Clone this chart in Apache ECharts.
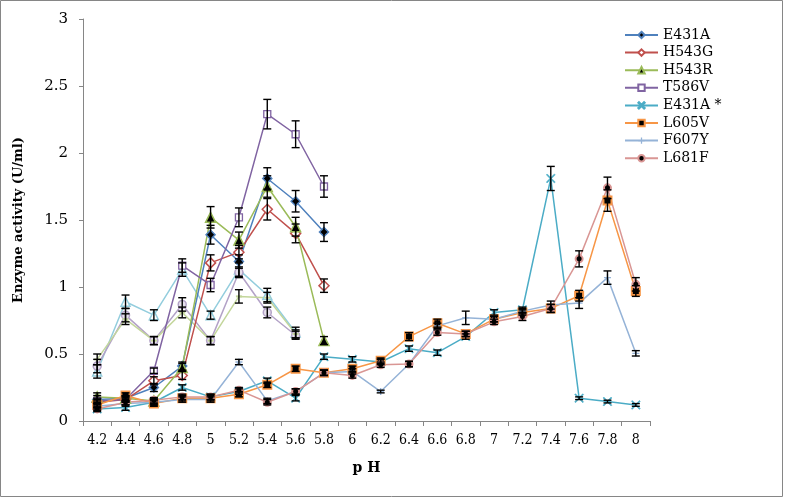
<!DOCTYPE html>
<html>
<head>
<meta charset="utf-8">
<script src="https://cdn.jsdelivr.net/npm/echarts@6/dist/echarts.min.js"></script>
<style>
html, body { margin: 0; padding: 0; background: #fff; }
#main { width: 788px; height: 498px; }
</style>
</head>
<body>
<div id="main"></div>
<script>
// pH 分类
var categories = ['4.2', '4.4', '4.6', '4.8', '5', '5.2', '5.4', '5.6', '5.8', '6',
    '6.2', '6.4', '6.6', '6.8', '7', '7.2', '7.4', '7.6', '7.8', '8'];
var yTicks = [0, 0.5, 1, 1.5, 2, 2.5, 3];

// 各突变体酶活 (U/ml)
var E431A = [0.16, 0.17, 0.25, 0.41, 1.39, 1.19, 1.81, 1.64, 1.41];
var H543G = [0.14, 0.16, 0.30, 0.34, 1.18, 1.26, 1.58, 1.40, 1.01];
var H543R = [0.18, 0.17, 0.15, 0.40, 1.52, 1.35, 1.75, 1.45, 0.60];
var T586V = [0.15, 0.16, 0.375, 1.16, 1.015, 1.52, 2.29, 2.14, 1.75];
var E431Astar = [0.09, 0.10, 0.14, 0.25, 0.18, 0.22, 0.30, 0.17, 0.48, 0.46,
    0.44, 0.54, 0.51, 0.63, 0.81, 0.83, 1.81, 0.17, 0.145, 0.12];
var L605V = [0.12, 0.19, 0.13, 0.17, 0.17, 0.20, 0.27, 0.39, 0.36, 0.39,
    0.45, 0.63, 0.73, 0.65, 0.76, 0.81, 0.84, 0.935, 1.645, 0.97];
var F607Y = [0.11, 0.13, 0.14, 0.16, 0.16, 0.44, 0.15, 0.22, 0.36, 0.37,
    0.22, 0.425, 0.71, 0.77, 0.76, 0.82, 0.865, 0.88, 1.07, 0.505];
var L681F = [0.09, 0.14, 0.155, 0.18, 0.18, 0.23, 0.14, 0.22, 0.36, 0.34,
    0.42, 0.425, 0.66, 0.65, 0.74, 0.78, 0.84, 1.21, 1.74, 1.02];
// 图例中没有的三条线
var extraA = [0.37, 0.89, 0.79, 1.13, 0.79, 1.13, 0.94, 0.66];
var extraB = [0.41, 0.79, 0.60, 0.87, 0.60, 1.11, 0.81, 0.64];
var extraC = [0.46, 0.76, 0.60, 0.81, 0.60, 0.93, 0.92, 0.65];

// 误差 (±)
var errE431A = [0.03, 0.02, 0.03, 0.03, 0.07, 0.05, 0.08, 0.08, 0.07];
var errH543G = [0.02, 0.02, 0.03, 0.03, 0.06, 0.05, 0.08, 0.07, 0.05];
var errH543R = [0.03, 0.02, 0.02, 0.03, 0.08, 0.06, 0.08, 0.07, 0.03];
var errT586V = [0.02, 0.02, 0.02, 0.05, 0.05, 0.07, 0.11, 0.10, 0.08];
var errE431Astar = [0.01, 0.02, 0.02, 0.02, 0.02, 0.02, 0.02, 0.02, 0.02, 0.02,
    0.02, 0.02, 0.02, 0.02, 0.02, 0.02, 0.09, 0.01, 0.01, 0.01];
var errL605V = [0.02, 0.02, 0.02, 0.02, 0.02, 0.02, 0.02, 0.02, 0.02, 0.02,
    0.02, 0.03, 0.03, 0.02, 0.02, 0.02, 0.03, 0.04, 0.08, 0.04];
var errF607Y = [0.02, 0.02, 0.02, 0.02, 0.02, 0.02, 0.02, 0.02, 0.02, 0.02,
    0.01, 0.02, 0.02, 0.05, 0.02, 0.02, 0.03, 0.04, 0.05, 0.02];
var errL681F = [0.02, 0.02, 0.02, 0.02, 0.02, 0.02, 0.02, 0.02, 0.02, 0.02,
    0.02, 0.02, 0.02, 0.02, 0.02, 0.03, 0.03, 0.06, 0.08, 0.05];
var errExtraA = [0.05, 0.05, 0.04, 0.05, 0.03, 0.05, 0.05, 0.04];
var errExtraB = [0.05, 0.05, 0.03, 0.05, 0.03, 0.04, 0.04, 0.03];
var errExtraC = [0.04, 0.04, 0.03, 0.04, 0.03, 0.05, 0.04, 0.03];

var SERIF = "'DejaVu Serif', 'Liberation Serif', serif";
var X_PATH = 'path://M0,1L1,0L5,4L9,0L10,1L6,5L10,9L9,10L5,6L1,10L0,9L4,5Z';
var PLUS_PATH = 'path://M4,0H6V4H10V6H6V10H4V6H0V4H4Z';

var myChart = echarts.init(document.getElementById('main'));

function lineSeries(name, data, color, symbol, size, fill, bw) {
    return {
        name: name,
        type: 'line',
        data: data,
        symbol: symbol,
        symbolSize: size,
        showAllSymbol: true,
        connectNulls: false,
        lineStyle: { color: color, width: 1.5 },
        itemStyle: { color: fill, borderColor: color, borderWidth: bw },
        emphasis: { disabled: true },
        z: 3
    };
}

function errSeries(data, err) {
    var d = [];
    for (var i = 0; i < data.length; i++) {
        d.push([i, data[i], err[i]]);
    }
    return {
        type: 'custom',
        data: d,
        silent: true,
        z: 4,
        encode: { x: 0, y: 1 },
        renderItem: function (params, api) {
            var x = api.value(0), y = api.value(1), e = api.value(2);
            var top = api.coord([x, y + e]);
            var bot = api.coord([x, y - e]);
            var w = 4;
            var st = { stroke: '#000', lineWidth: 1.4 };
            return {
                type: 'group',
                children: [
                    { type: 'line', shape: { x1: top[0], y1: top[1], x2: bot[0], y2: bot[1] }, style: st },
                    { type: 'line', shape: { x1: top[0] - w, y1: top[1], x2: top[0] + w, y2: top[1] }, style: st },
                    { type: 'line', shape: { x1: bot[0] - w, y1: bot[1], x2: bot[0] + w, y2: bot[1] }, style: st }
                ]
            };
        }
    };
}

var series = [
    lineSeries('extraA', extraA, '#93cddd', 'triangle', 9, '#fff', 1.5),
    lineSeries('extraB', extraB, '#b3a2c7', 'circle', 8, '#e6e0ec', 1.5),
    lineSeries('extraC', extraC, '#c3d69b', 'rect', [6, 2], '#c3d69b', 0),
    lineSeries('E431A', E431A, '#4f81bd', 'diamond', 9, '#000', 1.5),
    lineSeries('H543G', H543G, '#c0504d', 'diamond', 10, '#fff', 1.5),
    lineSeries('H543R', H543R, '#9bbb59', 'triangle', 10, '#000', 1.5),
    lineSeries('T586V', T586V, '#8064a2', 'rect', 7, '#fff', 1.3),
    lineSeries('E431A *', E431Astar, '#4bacc6', X_PATH, 9, '#4bacc6', 0.5),
    lineSeries('L605V', L605V, '#f79646', 'rect', 8, '#000', 2),
    lineSeries('F607Y', F607Y, '#95b3d7', PLUS_PATH, 7, '#95b3d7', 0),
    lineSeries('L681F', L681F, '#d99694', 'circle', 7, '#000', 2),
    errSeries(extraA, errExtraA),
    errSeries(extraB, errExtraB),
    errSeries(extraC, errExtraC),
    errSeries(E431A, errE431A),
    errSeries(H543G, errH543G),
    errSeries(H543R, errH543R),
    errSeries(T586V, errT586V),
    errSeries(E431Astar, errE431Astar),
    errSeries(L605V, errL605V),
    errSeries(F607Y, errF607Y),
    errSeries(L681F, errL681F)
];

option = {
    backgroundColor: '#fff',
    animation: false,
    graphic: [{
        type: 'rect',
        shape: { x: 0.5, y: 0.5, width: 782, height: 496 },
        style: { fill: 'none', stroke: '#868686', lineWidth: 1 },
        silent: true
    }],
    legend: {
        data: ['E431A', 'H543G', 'H543R', 'T586V', 'E431A *', 'L605V', 'F607Y', 'L681F'],
        orient: 'vertical',
        left: 619,
        top: 23,
        itemWidth: 33,
        itemHeight: 8,
        itemGap: 3.6,
        textStyle: { fontFamily: SERIF, fontSize: 14, color: '#000', lineHeight: 14 }
    },
    grid: {
        left: 83,
        right: 138,
        top: 19,
        bottom: 77
    },
    xAxis: {
        type: 'category',
        data: categories,
        boundaryGap: true,
        name: 'p H',
        nameLocation: 'middle',
        nameGap: 40,
        nameTextStyle: { fontFamily: SERIF, fontSize: 14, fontWeight: 'bold', color: '#000' },
        axisLine: { lineStyle: { color: '#868686', width: 1 } },
        axisTick: { show: true, length: 5, alignWithLabel: false, lineStyle: { color: '#868686' } },
        axisLabel: {
            interval: 0,
            margin: 12,
            color: '#000',
            fontSize: 14,
            fontFamily: "'DejaVu Serif Condensed', 'DejaVu Serif', serif"
        },
        splitLine: { show: false }
    },
    yAxis: {
        type: 'value',
        min: yTicks[0],
        max: yTicks[yTicks.length - 1],
        interval: 0.5,
        name: 'Enzyme activity (U/ml)',
        nameLocation: 'middle',
        nameGap: 58,
        nameTextStyle: { fontFamily: SERIF, fontSize: 13, fontWeight: 'bold', color: '#000' },
        axisLine: { show: true, lineStyle: { color: '#868686', width: 1 } },
        axisTick: { show: true, length: 4, lineStyle: { color: '#868686' } },
        axisLabel: { margin: 15, color: '#000', fontSize: 15, fontFamily: SERIF },
        splitLine: { show: false }
    },
    series: series
};

myChart.setOption(option);
</script>
</body>
</html>
